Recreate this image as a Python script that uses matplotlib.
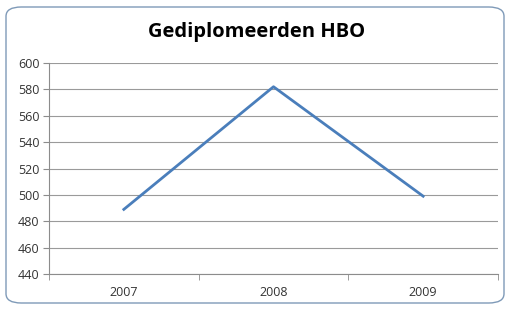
import matplotlib
matplotlib.use("Agg")
import matplotlib.pyplot as plt
from matplotlib.patches import FancyBboxPatch

years = ["2007", "2008", "2009"]
values = [489, 582, 499]
yticks = [440, 460, 480, 500, 520, 540, 560, 580, 600]

plt.rcParams['font.family'] = ['Open Sans', 'DejaVu Sans']

fig = plt.figure(figsize=(5.09, 3.09), dpi=100)
fig.patch.set_facecolor("white")

border = FancyBboxPatch((6/509, 6/309), 498/509, 296/309,
                        boxstyle="round,pad=0,rounding_size=0.03",
                        transform=fig.transFigure, facecolor="none",
                        edgecolor="#7f9ab8", linewidth=1.0, zorder=-1)
fig.patches.append(border)

ax = fig.add_axes([49/509, 1-274/309, (498-49)/509, (274-63)/309])
ax.set_facecolor("none")
x = list(range(len(years)))
ax.plot(x, values, color="#4a7ebb", linewidth=2.0, zorder=3)

ax.set_xlim(-0.5, len(years)-0.5)
ax.set_ylim(440, 600)
ax.set_yticks(yticks)
ax.set_xticks(x)
ax.set_xticklabels(years)
ax.set_xticks([i-0.5 for i in range(len(years)+1)], minor=True)
ax.tick_params(axis='x', which='major', length=0, pad=9, labelsize=9, colors="#333333")
ax.tick_params(axis='x', which='minor', length=4, color="#8c8c8c", direction='out')
ax.tick_params(axis='y', length=4, color="#8c8c8c", labelsize=9, labelcolor="#333333", pad=3)
ax.grid(axis='y', color="#9a9a9a", linewidth=0.8)
for s in ["top", "right"]:
    ax.spines[s].set_visible(False)
ax.spines["left"].set_color("#8c8c8c")
ax.spines["bottom"].set_color("#8c8c8c")

fig.text(257/509, 1-32/309, "Gediplomeerden HBO", ha="center", va="center",
         fontsize=14.5, fontweight="bold", color="black")

fig.savefig("out.png", dpi=100, facecolor="white")
